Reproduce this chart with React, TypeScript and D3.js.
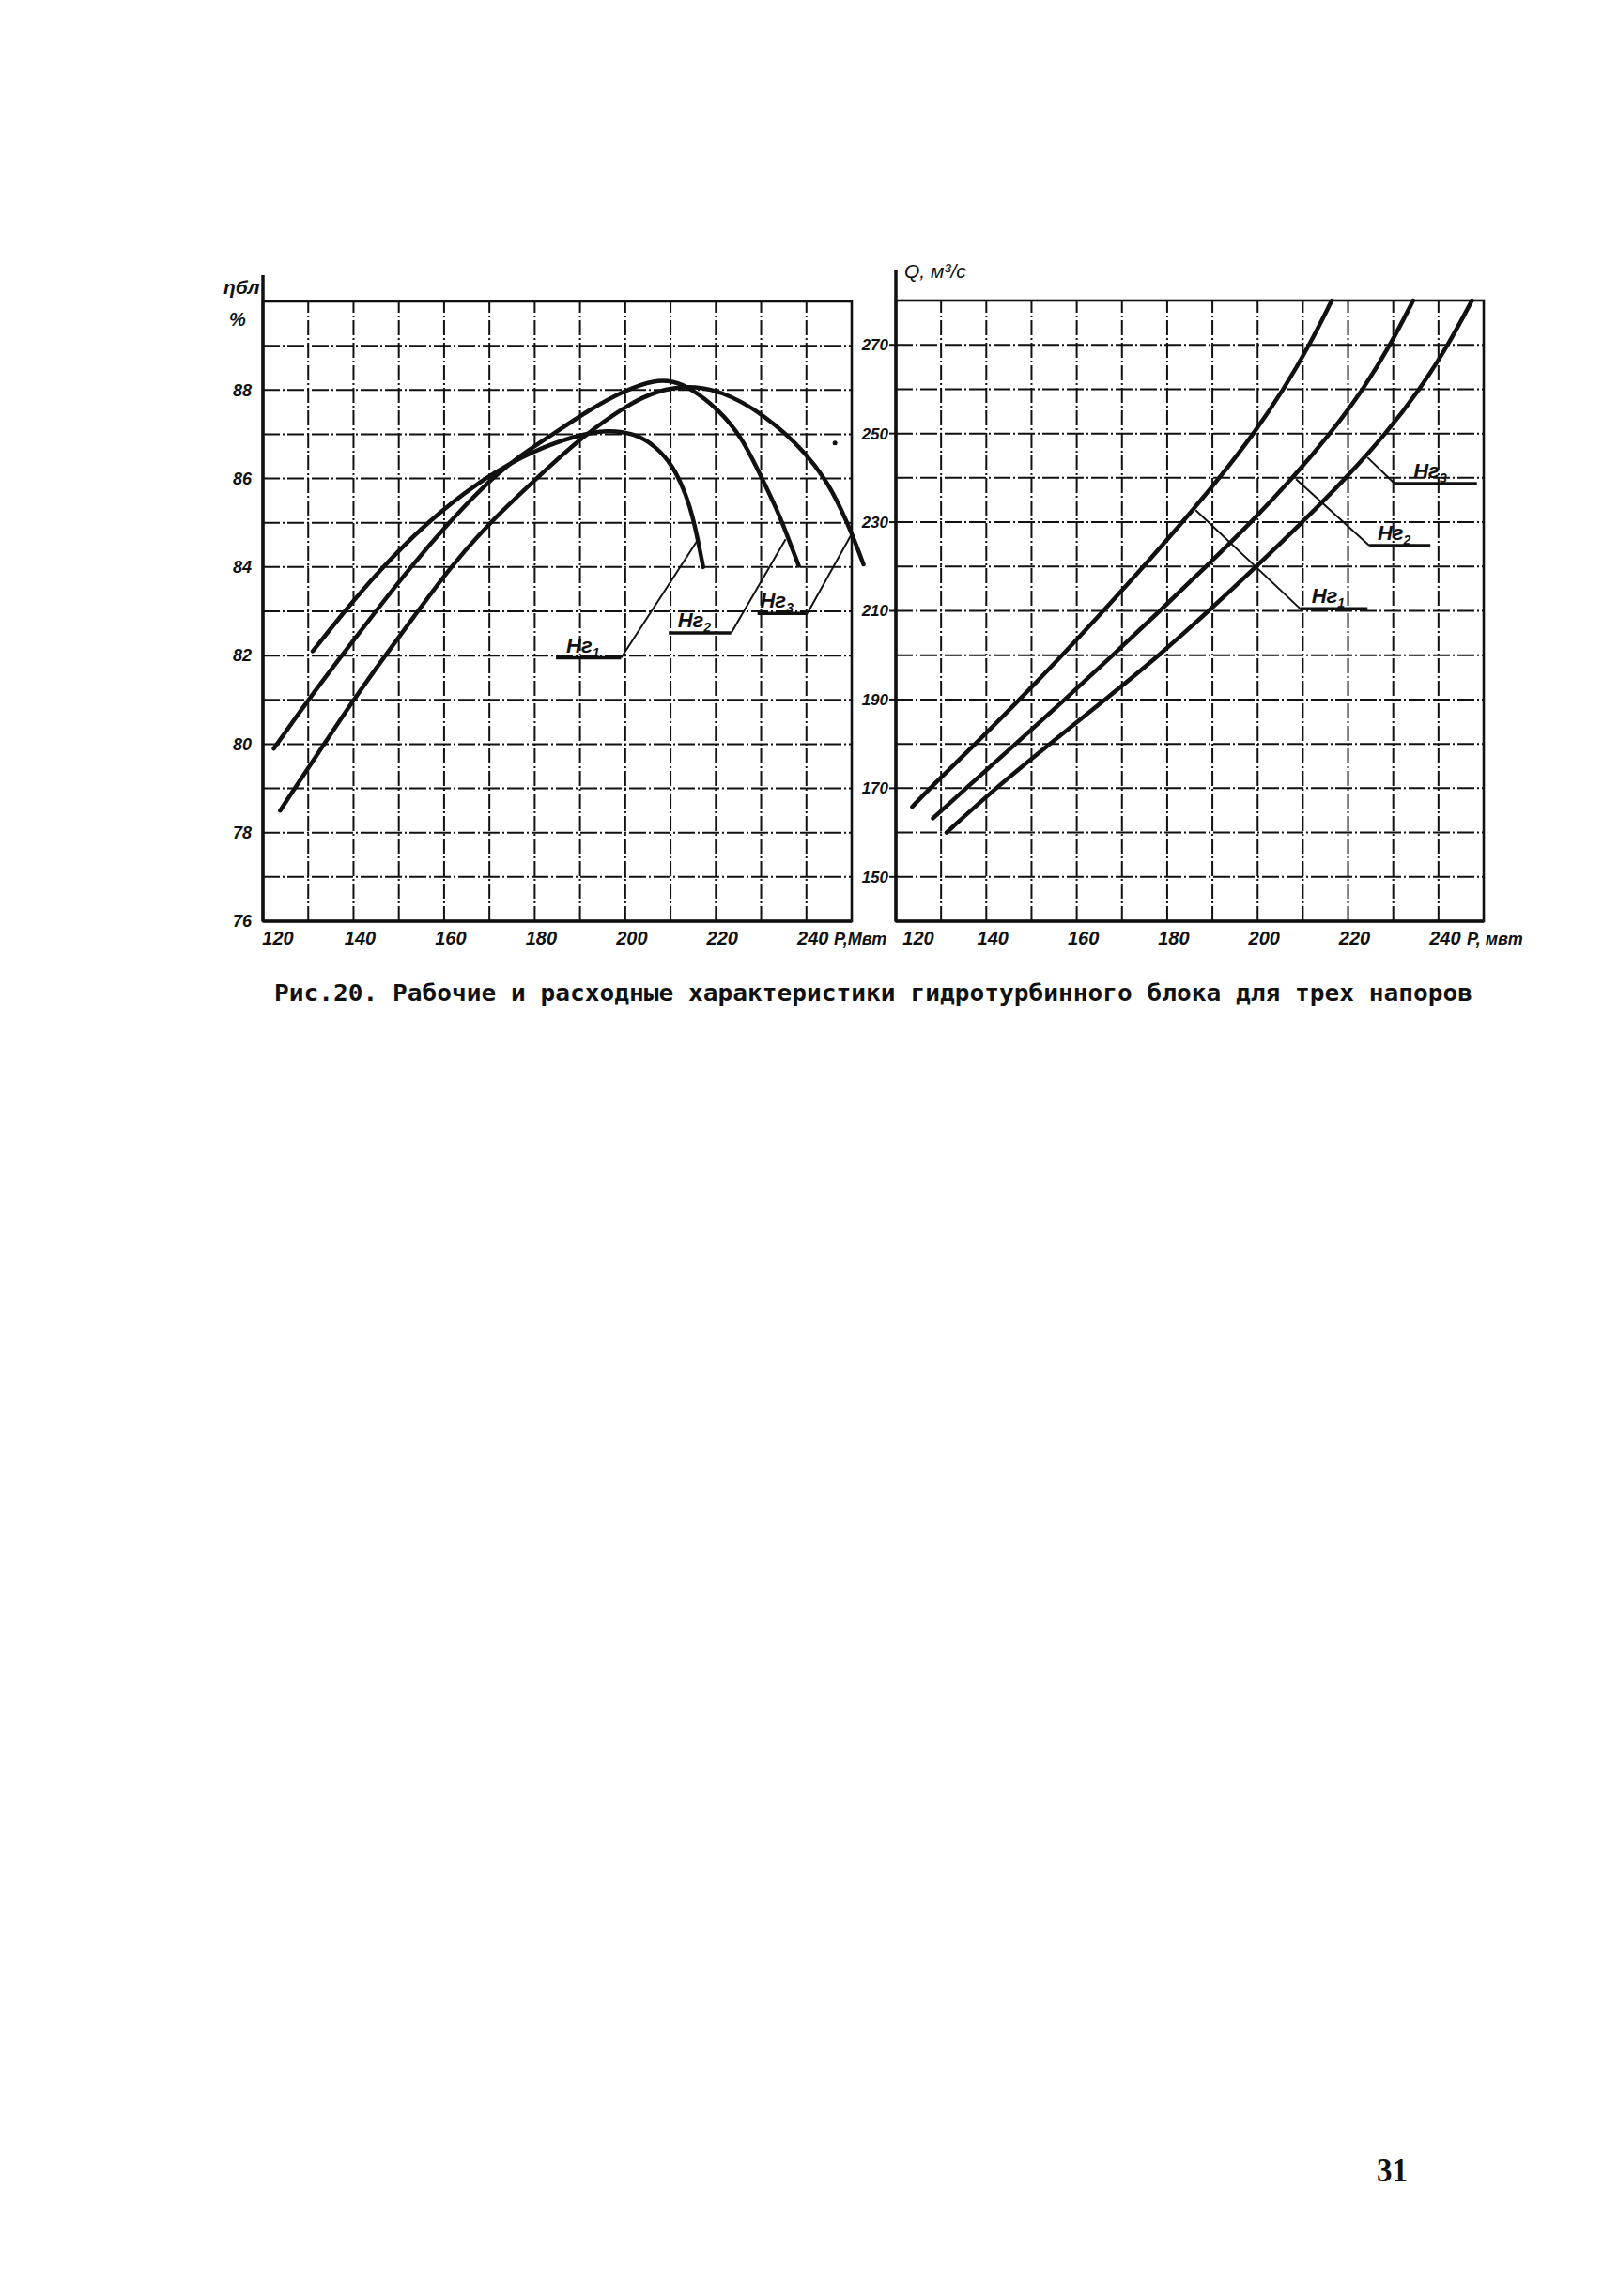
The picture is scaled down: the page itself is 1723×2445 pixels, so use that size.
import React from "react";
import * as d3 from "d3";

// ---- data ----
const P_TICKS = [120, 140, 160, 180, 200, 220, 240];
const ETA_TICKS = [76, 78, 80, 82, 84, 86, 88];
const Q_TICKS = [150, 170, 190, 210, 230, 250, 270];

// efficiency η (%) vs power P (MW)
const etaHr1: [number, number][] = [
  [131, 82.1], [138, 83.0], [145.5, 83.9], [156, 85.0], [168.5, 86.0], [180, 86.65],
  [189.5, 86.98], [196, 87.1], [202, 87.02], [206.5, 86.75], [210.5, 86.3], [213.4, 85.65],
  [215.3, 85.0], [217.2, 84.0],
];
const etaHr2: [number, number][] = [
  [122.4, 79.9], [130, 81.0], [137.4, 82.0], [144.9, 83.0], [152.6, 84.0], [161, 85.0],
  [169.9, 85.95], [176.5, 86.5], [184, 87.0], [192, 87.55], [200, 88.0], [206.7, 88.23],
  [210.5, 88.2], [214.4, 88.05], [220.6, 87.56], [225.8, 86.93], [230.2, 86.0],
  [233.5, 85.3], [236, 84.65], [238.3, 84.03],
];
const etaHr3: [number, number][] = [
  [123.8, 78.5], [133.5, 80.0], [140, 81.0], [147, 82.0], [154.2, 83.0], [161.4, 84.0],
  [170, 85.0], [180.4, 86.0], [190.5, 86.95], [201, 87.7], [207, 87.98], [213.4, 88.1],
  [221, 88.0], [230.6, 87.46], [240.2, 86.57], [245.9, 85.72], [250, 84.77], [252.6, 84.06],
];

// discharge Q (m3/s) vs power P (MW)
const qHr1: [number, number][] = [
  [123.6, 165.8], [127.5, 170], [137.6, 180], [147.4, 190], [156.8, 200], [165.9, 210],
  [174.8, 220], [183.4, 230], [191.6, 240], [199.2, 250], [205.8, 260], [211.5, 270], [216.4, 280],
];
const qHr2: [number, number][] = [
  [128.2, 163.2], [135.5, 170], [146.5, 180], [157.4, 190], [168, 200], [178.4, 210],
  [188.6, 220], [198.6, 230], [207.8, 240], [216.1, 250], [223.4, 260], [229.4, 270], [234.4, 280],
];
const qHr3: [number, number][] = [
  [131.2, 160], [142, 170], [154, 180], [166.3, 190], [178.3, 200], [189.2, 210],
  [199.7, 220], [209.9, 230], [219.6, 240], [228.4, 250], [235.9, 260], [242.2, 270], [247.4, 280],
];

// label callouts: underline [x1, x2, y], leader end [x, y]
const etaLabels = [
  { n: "1", u: [184.7, 199.1, 81.95], lead: [216.3, 84.66] },
  { n: "2", u: [209.6, 223.4, 82.51], lead: [235.4, 84.63] },
  { n: "3", u: [229.2, 240.2, 82.95], lead: [250.0, 84.75] },
];
const qLabels = [
  { n: "3", u: [230.3, 248.5, 238.7], lead: [224.3, 244.6] },
  { n: "2", u: [224.7, 238.2, 224.7], lead: [208.5, 239.7] },
  { n: "1", u: [209.4, 224.3, 210.5], lead: [186.3, 232.7] },
];

const CAPTION = "Рис.20. Рабочие и расходные характеристики гидротурбинного блока для трех напоров";

const W = 1723;
const H = 2445;
const INK = "#111";
const FONT = "'Liberation Sans', Arial, sans-serif";

const xL = d3.scaleLinear().domain([120, 250]).range([280, 907]);
const yL = d3.scaleLinear().domain([76, 90]).range([981, 321]);
const xR = d3.scaleLinear().domain([120, 250]).range([954, 1580]);
const yR = d3.scaleLinear().domain([140, 280]).range([981, 320]);

function Grid({ x, y, xs, ys }: any) {
  const [x0, x1] = x.range();
  const [y0, y1] = y.range();
  return (
    <g>
      {xs.map((v: number) => (
        <line key={"v" + v} x1={x(v)} x2={x(v)} y1={y0} y2={y1} stroke={INK}
          strokeWidth={2} strokeDasharray="16 3 2 3" />
      ))}
      {ys.map((v: number) => (
        <line key={"h" + v} x1={x0} x2={x1} y1={y(v)} y2={y(v)} stroke={INK}
          strokeWidth={2} strokeDasharray="18 3 2 3" />
      ))}
    </g>
  );
}

function Curve({ data, x, y }: any) {
  const line = d3.line<[number, number]>().x((d) => x(d[0])).y((d) => y(d[1])).curve(d3.curveBasis);
  return <path d={line(data) || ""} fill="none" stroke={INK} strokeWidth={4.5} strokeLinecap="round" />;
}

function Callout({ lab, x, y }: any) {
  const [u1, u2, uy] = lab.u;
  const [lx, ly] = lab.lead;
  const anchorX = lx > u2 ? x(u2) : x(u1);
  return (
    <g>
      <line x1={x(u1)} x2={x(u2)} y1={y(uy)} y2={y(uy)} stroke={INK} strokeWidth={3.5} />
      <line x1={anchorX} y1={y(uy)} x2={x(lx)} y2={y(ly)} stroke={INK} strokeWidth={2} />
      <text x={(x(u1) + x(u2)) / 2 - 6} y={y(uy) - 6} textAnchor="middle" fontFamily={FONT}
        fontStyle="italic" fontWeight={700} fontSize={22} fill={INK}>
        Нг<tspan dy={5} fontSize={14}>{lab.n}</tspan>
      </text>
    </g>
  );
}

export default function App() {
  const vLines = d3.range(120, 251, 10);
  const etaLines = d3.range(76, 91, 1);
  const qLines = d3.range(140, 281, 10);
  const tickStyle = { fontFamily: FONT, fontStyle: "italic", fontWeight: 700, fontSize: 20, fill: INK } as any;

  return (
    <svg width={W} height={H} viewBox={`0 0 ${W} ${H}`}
      style={{ position: "absolute", left: 0, top: 0, background: "#fff" }}>
      <rect x={0} y={0} width={W} height={H} fill="#fff" />

      {/* ===== LEFT: efficiency ===== */}
      <Grid x={xL} y={yL} xs={vLines} ys={etaLines} />
      <rect x={xL(120)} y={yL(90)} width={xL(250) - xL(120)} height={yL(76) - yL(90)}
        fill="none" stroke={INK} strokeWidth={2.6} />
      <line x1={xL(120)} x2={xL(120)} y1={293} y2={yL(76)} stroke={INK} strokeWidth={3.5} />
      <line x1={xL(120)} x2={xL(250)} y1={yL(76)} y2={yL(76)} stroke={INK} strokeWidth={3.4} />
      {ETA_TICKS.map((v) => (
        <text key={"et" + v} x={268} y={yL(v)} dy="0.35em" textAnchor="end" style={{ ...tickStyle, fontSize: 18 }}>{v}</text>
      ))}
      {P_TICKS.map((v) => (
        <text key={"pl" + v} x={xL(v) + (v === 120 ? 16 : 7)} y={1006} textAnchor="middle" style={tickStyle}>{v}</text>
      ))}
      <text x={888} y={1006} style={{ ...tickStyle, fontSize: 18 }}>P,Мвт</text>
      <text x={238} y={313} fontFamily={FONT} fontStyle="italic" fontWeight={700} fontSize={21} fill={INK}>ηбл</text>
      <text x={244} y={347} fontFamily={FONT} fontStyle="italic" fontWeight={700} fontSize={20} fill={INK}>%</text>

      <Curve data={etaHr1} x={xL} y={yL} />
      <Curve data={etaHr2} x={xL} y={yL} />
      <Curve data={etaHr3} x={xL} y={yL} />
      {etaLabels.map((lab, i) => (
        <Callout key={"el" + i} lab={lab} x={xL} y={yL} />
      ))}
      <circle cx={xL(246.3)} cy={yL(86.8)} r={2.5} fill={INK} />

      {/* ===== RIGHT: discharge ===== */}
      <Grid x={xR} y={yR} xs={vLines} ys={qLines} />
      <rect x={xR(120)} y={yR(280)} width={xR(250) - xR(120)} height={yR(140) - yR(280)}
        fill="none" stroke={INK} strokeWidth={2.6} />
      <line x1={xR(120)} x2={xR(120)} y1={288} y2={yR(140)} stroke={INK} strokeWidth={3.5} />
      <line x1={xR(120)} x2={xR(250)} y1={yR(140)} y2={yR(140)} stroke={INK} strokeWidth={3.4} />
      {Q_TICKS.map((v) => (
        <g key={"qt" + v}>
          <line x1={xR(120) - 7} x2={xR(120)} y1={yR(v)} y2={yR(v)} stroke={INK} strokeWidth={2} />
          <text x={946} y={yR(v)} dy="0.35em" textAnchor="end" style={{ ...tickStyle, fontSize: 17 }}>{v}</text>
        </g>
      ))}
      {P_TICKS.map((v) => (
        <text key={"pr" + v} x={xR(v) + (v === 120 ? 24 : 7)} y={1006} textAnchor="middle" style={tickStyle}>{v}</text>
      ))}
      <text x={1562} y={1006} style={{ ...tickStyle, fontSize: 18 }}>P, мвт</text>
      <text x={963} y={296} fontFamily={FONT} fontStyle="italic" fontSize={21} fill={INK}>Q, м³/с</text>

      <Curve data={qHr1} x={xR} y={yR} />
      <Curve data={qHr2} x={xR} y={yR} />
      <Curve data={qHr3} x={xR} y={yR} />
      {qLabels.map((lab, i) => (
        <Callout key={"ql" + i} lab={lab} x={xR} y={yR} />
      ))}

      {/* caption */}
      <text x={292} y={1066} textLength={1276} lengthAdjust="spacingAndGlyphs"
        fontFamily="'DejaVu Sans Mono', monospace" fontWeight={700} fontSize={25} fill={INK}>
        {CAPTION}
      </text>

      {/* page number */}
      <text x={1466} y={2323} textLength={33} lengthAdjust="spacingAndGlyphs"
        fontFamily="'Liberation Serif', serif" fontWeight={700} fontSize={36} fill={INK}>31</text>
    </svg>
  );
}
